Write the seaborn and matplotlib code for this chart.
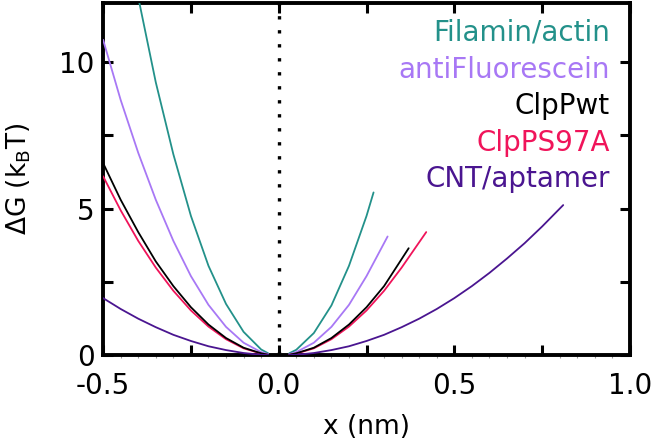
import numpy as np
import pandas as pd
import seaborn as sns
import matplotlib.pyplot as plt
from matplotlib.ticker import MultipleLocator

# energy profiles dG(x) (x in nm, dG in kBT)
filamin_x = [-0.40, -0.35, -0.30, -0.25, -0.20, -0.15, -0.10, -0.05, -0.03,
             0.03, 0.05, 0.10, 0.15, 0.20, 0.25, 0.27]
filamin_g = [12.2, 9.3, 6.85, 4.75, 3.05, 1.75, 0.8, 0.2, 0.07,
             0.07, 0.19, 0.76, 1.7, 3.05, 4.75, 5.55]

antifl_x = [-0.50, -0.45, -0.40, -0.35, -0.30, -0.25, -0.20, -0.15, -0.10, -0.05, -0.03,
            0.03, 0.05, 0.10, 0.15, 0.20, 0.25, 0.31]
antifl_g = [10.75, 8.7, 6.9, 5.3, 3.9, 2.7, 1.72, 0.97, 0.43, 0.11, 0.04,
            0.04, 0.11, 0.43, 0.97, 1.72, 2.7, 4.05]

clpwt_x = [-0.50, -0.45, -0.40, -0.35, -0.30, -0.25, -0.20, -0.15, -0.10, -0.05, -0.03,
           0.03, 0.05, 0.10, 0.15, 0.20, 0.25, 0.30, 0.37]
clpwt_g = [6.55, 5.3, 4.2, 3.2, 2.36, 1.64, 1.05, 0.59, 0.26, 0.07, 0.02,
           0.02, 0.07, 0.26, 0.59, 1.05, 1.64, 2.36, 3.65]

clps97a_x = [-0.50, -0.45, -0.40, -0.35, -0.30, -0.25, -0.20, -0.15, -0.10, -0.05, -0.03,
             0.03, 0.05, 0.10, 0.15, 0.20, 0.25, 0.30, 0.35, 0.42]
clps97a_g = [6.1, 4.94, 3.9, 2.99, 2.2, 1.53, 0.98, 0.55, 0.24, 0.06, 0.02,
             0.02, 0.06, 0.24, 0.55, 0.98, 1.53, 2.2, 2.99, 4.2]

cnt_x = [-0.50, -0.45, -0.40, -0.35, -0.30, -0.25, -0.20, -0.15, -0.10, -0.05, -0.03,
         0.03, 0.05, 0.10, 0.15, 0.20, 0.25, 0.30, 0.35, 0.40, 0.45, 0.50,
         0.55, 0.60, 0.65, 0.70, 0.75, 0.81]
cnt_g = [1.95, 1.58, 1.25, 0.96, 0.7, 0.49, 0.31, 0.18, 0.08, 0.02, 0.01,
         0.01, 0.02, 0.08, 0.18, 0.31, 0.49, 0.7, 0.96, 1.25, 1.58, 1.95,
         2.36, 2.81, 3.3, 3.82, 4.39, 5.12]

names = ["Filamin/actin", "antiFluorescein", "ClpPwt", "ClpPS97A", "CNT/aptamer"]
colors = ["#23918a", "#a878f5", "#000000", "#f0145a", "#4a1590"]
label_y = [10.71, 9.46, 8.22, 6.96, 5.72]

series = [(filamin_x, filamin_g), (antifl_x, antifl_g), (clpwt_x, clpwt_g),
          (clps97a_x, clps97a_g), (cnt_x, cnt_g)]

sns.set_style("ticks")
plt.rcParams['font.family'] = ['DejaVu Sans']
plt.rcParams['mathtext.default'] = 'regular'
for key in ['text.color', 'axes.labelcolor', 'xtick.color', 'ytick.color']:
    plt.rcParams[key] = 'black'

fig = plt.figure(figsize=(6.61, 4.47), dpi=100)
ax = fig.add_axes([0.156, 0.205, 0.797, 0.788])

ax.axvline(0, color='k', lw=2.4, ls=(0, (1, 3.2)), zorder=1)

draw_order = [0, 1, 3, 2, 4]
for i in draw_order:
    xs, gs = series[i]
    df = pd.DataFrame({"x": xs, "g": gs})
    df["branch"] = np.where(df["x"] < 0, "L", "R")
    sns.lineplot(data=df, x="x", y="g", units="branch", estimator=None,
                 sort=False, color=colors[i], lw=1.3, ax=ax, zorder=3)

for name, c, yy in zip(names, colors, label_y):
    ax.text(0.943, yy, name, color=c, fontsize=20, ha='right', va='baseline')

ax.set_xlim(-0.5, 1.0)
ax.set_ylim(0, 12)
ax.set_xticks([-0.5, -0.25, 0, 0.25, 0.5, 0.75, 1.0])
ax.set_xticklabels(["-0.5", "", "0.0", "", "0.5", "", "1.0"])
ax.set_yticks([0, 2.5, 5, 7.5, 10])
ax.set_yticklabels(["0", "", "5", "", "10"])
ax.xaxis.set_minor_locator(MultipleLocator(0.05))
ax.tick_params(which='major', direction='in', length=7, width=2.2,
               top=True, right=True, labelsize=20, color='k')
ax.tick_params(axis='x', which='major', pad=12)
ax.tick_params(axis='y', which='major', pad=6)
ax.tick_params(axis='x', which='minor', direction='out', length=2.5,
               width=0.8, color='#999999', top=False)
ax.tick_params(axis='y', which='minor', left=False, right=False)
for s in ax.spines.values():
    s.set_linewidth(2.8)
    s.set_color('k')

ax.set_xlabel("x (nm)", fontsize=19, labelpad=10)
ax.set_ylabel("ΔG (k$_B$T)", fontsize=19, labelpad=19)

fig.savefig("out.png", dpi=100)
